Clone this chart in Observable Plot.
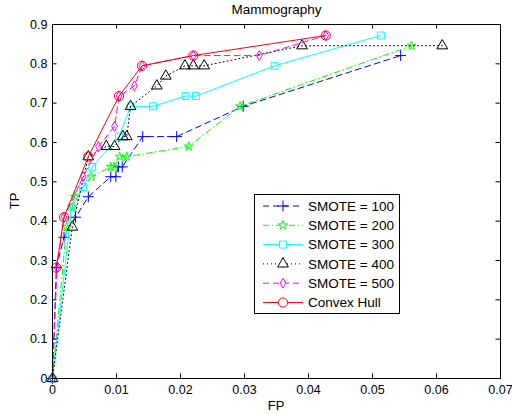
<!DOCTYPE html>
<html><head><meta charset="utf-8">
<script src="https://cdn.jsdelivr.net/npm/d3@7"></script>
<script src="https://cdn.jsdelivr.net/npm/@observablehq/plot@0.6"></script>
<style>body{margin:0;background:#fff}#chart{width:512px;height:414px}</style>
</head><body><div id="chart"></div>
<script>
// ---- data ----
const xTicks = [0, 0.01, 0.02, 0.03, 0.04, 0.05, 0.06, 0.07];
const yTicks = [0, 0.1, 0.2, 0.3, 0.4, 0.5, 0.6, 0.7, 0.8, 0.9];
const seriesNames = ["SMOTE = 100", "SMOTE = 200", "SMOTE = 300", "SMOTE = 400", "SMOTE = 500", "Convex Hull"];

const smote100FP = [0, 0.0006, 0.0018, 0.0036, 0.0056, 0.0091, 0.0099, 0.0103, 0.0109, 0.0141, 0.0194, 0.0298, 0.0544];
const smote100TP = [0, 0.282, 0.359, 0.410, 0.462, 0.513, 0.513, 0.538, 0.538, 0.615, 0.615, 0.692, 0.821];

const smote200FP = [0, 0.0022, 0.0031, 0.0035, 0.0061, 0.0091, 0.0096, 0.0105, 0.0116, 0.0213, 0.0293, 0.0561];
const smote200TP = [0, 0.385, 0.436, 0.462, 0.513, 0.538, 0.538, 0.564, 0.564, 0.590, 0.692, 0.846];

const smote300FP = [0, 0.0030, 0.0048, 0.0062, 0.0104, 0.0122, 0.0157, 0.0208, 0.0224, 0.0347, 0.0513];
const smote300TP = [0, 0.436, 0.487, 0.538, 0.615, 0.692, 0.692, 0.718, 0.718, 0.795, 0.872];

const smote400FP = [0, 0.0031, 0.0056, 0.0084, 0.0097, 0.0110, 0.0116, 0.0122, 0.0163, 0.0177, 0.0207, 0.0220, 0.0237, 0.0390, 0.0609];
const smote400TP = [0, 0.385, 0.564, 0.590, 0.590, 0.615, 0.615, 0.692, 0.744, 0.769, 0.795, 0.795, 0.795, 0.846, 0.846];

const smote500FP = [0, 0.0007, 0.0018, 0.0048, 0.0072, 0.0097, 0.0104, 0.0128, 0.0140, 0.0220, 0.0323, 0.0427];
const smote500TP = [0, 0.282, 0.410, 0.513, 0.590, 0.641, 0.718, 0.744, 0.795, 0.821, 0.821, 0.872];

const hullFP = [0.0006, 0.0018, 0.0056, 0.0104, 0.0140, 0.0220, 0.0427];
const hullTP = [0.282, 0.410, 0.564, 0.718, 0.795, 0.821, 0.872];

const seriesFP = [smote100FP, smote200FP, smote300FP, smote400FP, smote500FP, hullFP];
const seriesTP = [smote100TP, smote200TP, smote300TP, smote400TP, smote500TP, hullTP];

// ---- styles ----
const styles = [
  {color: "#0000ff", symbol: "plus", r: 3.6, dash: "6,4"},
  {color: "#00ff00", symbol: "star", r: 2.8, dash: "6,3,1,3"},
  {color: "#00ffff", symbol: "square", r: 3.9, dash: null},
  {color: "#000000", symbol: "triangle", r: 4.0, dash: "1,3"},
  {color: "#ff00ff", symbol: "diamond", r: 3.0, dash: "6,4"},
  {color: "#ff0000", symbol: "circle", r: 4.6, dash: null}
];
const FONT = "'Liberation Sans', Arial, Helvetica, sans-serif";
const W = 512, H = 414, mL = 52, mR = 12, mT = 24, mB = 36;
const frameW = W - mL - mR, frameH = H - mT - mB;
const fmt = d => String(+d.toFixed(2));

const marks = [];
seriesFP.forEach((fp, i) => {
  const rows = fp.map((x, j) => ({fp: x, tp: seriesTP[i][j]}));
  const st = styles[i];
  marks.push(Plot.line(rows, {x: "fp", y: "tp", stroke: st.color, strokeWidth: 1, strokeDasharray: st.dash ?? undefined}));
  marks.push(Plot.dot(rows, {x: "fp", y: "tp", stroke: st.color, fill: "none", symbol: st.symbol, r: st.r, strokeWidth: 1}));
});

const plot = Plot.plot({
  width: W, height: H,
  marginLeft: mL, marginRight: mR, marginTop: mT, marginBottom: mB,
  style: {fontFamily: FONT, fontSize: "12.5px", background: "white", color: "black"},
  x: {domain: [0, 0.07]},
  y: {domain: [0, 0.9]},
  marks: [
    ...marks,
    Plot.frame({stroke: "black", strokeWidth: 1}),
    Plot.tickX(xTicks, {x: d => d, insetTop: frameH - 4.5, stroke: "black"}),
    Plot.tickX(xTicks, {x: d => d, insetBottom: frameH - 4.5, stroke: "black"}),
    Plot.tickY(yTicks, {y: d => d, insetRight: frameW - 4.5, stroke: "black"}),
    Plot.tickY(yTicks, {y: d => d, insetLeft: frameW - 4.5, stroke: "black"}),
    Plot.axisX({ticks: xTicks, tickSize: 0, tickPadding: 6.5, tickFormat: fmt, label: null, fontSize: 12.5}),
    Plot.axisY({ticks: yTicks, tickSize: 0, tickPadding: 5, tickFormat: fmt, label: null, fontSize: 12.5})
  ]
});
document.getElementById("chart").appendChild(plot);

// ---- labels and legend (d3) ----
const svg = d3.select(plot);
svg.append("text").attr("x", 276.5).attr("y", 14).attr("text-anchor", "middle")
  .attr("font-family", FONT).attr("font-size", 13.5).attr("fill", "black").text("Mammography");
svg.append("text").attr("x", 276).attr("y", 409.5).attr("text-anchor", "middle")
  .attr("font-family", FONT).attr("font-size", 13).attr("fill", "black").text("FP");
svg.append("text").attr("transform", "translate(18.5,201) rotate(-90)").attr("text-anchor", "middle")
  .attr("font-family", FONT).attr("font-size", 13).attr("fill", "black").text("TP");

const symMap = {plus: d3.symbolPlus, star: d3.symbolStar, square: d3.symbolSquare, triangle: d3.symbolTriangle, diamond: d3.symbolDiamond, circle: d3.symbolCircle};
const lg = svg.append("g");
lg.append("rect").attr("x", 254.5).attr("y", 194.5).attr("width", 145).attr("height", 119)
  .attr("fill", "white").attr("stroke", "black").attr("stroke-width", 1);
seriesNames.forEach((name, i) => {
  const st = styles[i];
  const y = 206 + i * 19.3;
  lg.append("line").attr("x1", 263).attr("x2", 303).attr("y1", y).attr("y2", y)
    .attr("stroke", st.color).attr("stroke-width", 1).attr("stroke-dasharray", st.dash);
  lg.append("path").attr("d", d3.symbol(symMap[st.symbol], Math.PI * st.r * st.r)())
    .attr("transform", `translate(283,${y})`).attr("fill", "white").attr("stroke", st.color).attr("stroke-width", 1);
  lg.append("text").attr("x", 308).attr("y", y + 4.7).attr("text-anchor", "start").attr("font-family", FONT).attr("font-size", 13.5)
    .attr("fill", "black").text(name);
});
</script>
</body></html>
